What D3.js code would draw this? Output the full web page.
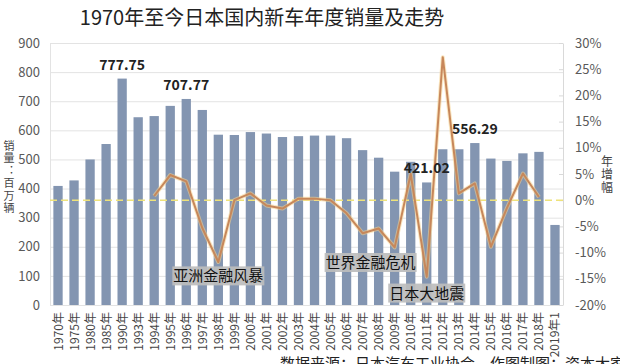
<!DOCTYPE html>
<html>
<head>
<meta charset="utf-8">
<script src="https://cdn.jsdelivr.net/npm/d3@7"></script>
<style>
  body { margin: 0; background: #fff; }
  svg { display: block; font-family: "Noto Sans CJK SC", "Noto Sans", sans-serif; }
</style>
</head>
<body>
<div id="chart"></div>
<script>
// categories
var years = ["1970年","1975年","1980年","1985年","1990年","1993年","1994年","1995年","1996年","1997年",
  "1998年","1999年","2000年","2001年","2002年","2003年","2004年","2005年","2006年","2007年",
  "2008年","2009年","2010年","2011年","2012年","2013年","2014年","2015年","2016年","2017年",
  "2018年","2019年1"];
// sales, 10k units
var sales = [409,428,500,553,777.75,645,649,684,707.77,670,
  585,584,594,589,577,580,582,582,573,532,
  506,458,492,421.02,535,535,556.29,503,495,521,
  526,275];
// yearly growth %, only 1994..2018
var growthYears = years.slice(6, 31);
var growth = [0.8,4.8,3.6,-5.3,-11.8,0,1.3,-1,-1.6,0.3,
  0.3,0,-2.5,-6.3,-5.4,-9,5,-14.6,27.3,1.3,
  3.2,-8.9,-1.5,5.1,0.6];
var labelled = ["1990年","1996年","2011年","2014年"];
var leftTicks = [0,100,200,300,400,500,600,700,800,900];
var rightTicks = [-20,-15,-10,-5,0,5,10,15,20,25,30];
var events = [
  {text: "亚洲金融风暴", from: "1998年", to: "1998年", v: 100},
  {text: "世界金融危机", from: "2007年", to: "2008年", v: 146},
  {text: "日本大地震", from: "2011年", to: "2011年", v: 41}
];

var W = 620, H = 364;
var margin = {top: 43, right: 57, bottom: 59, left: 50};

var svg = d3.select("#chart").append("svg")
  .attr("width", W).attr("height", H);

var x = d3.scaleBand()
  .domain(years)
  .range([margin.left, W - margin.right])
  .paddingInner(0.42).paddingOuter(0.21);

var yL = d3.scaleLinear().domain([0, 900]).range([H - margin.bottom, margin.top]);
var yR = d3.scaleLinear().domain([-20, 30]).range([H - margin.bottom, margin.top]);

// title
svg.append("text")
  .attr("x", 262).attr("y", 25)
  .attr("text-anchor", "middle")
  .attr("font-size", 20)
  .attr("fill", "#222")
  .text("1970年至今日本国内新车年度销量及走势");

// grid
svg.append("g").selectAll("line")
  .data(leftTicks)
  .join("line")
    .attr("x1", margin.left).attr("x2", W - margin.right)
    .attr("y1", function(d) { return yL(d) + 0.5; })
    .attr("y2", function(d) { return yL(d) + 0.5; })
    .attr("stroke", "#e3e3e3");

// left axis
var gL = svg.append("g")
  .attr("transform", "translate(" + margin.left + ",0)")
  .call(d3.axisLeft(yL).tickValues(leftTicks).tickSize(0).tickPadding(10));
gL.select(".domain").attr("stroke", "#e3e3e3");
gL.selectAll("text").attr("font-size", 13).attr("fill", "#595959")
  .attr("font-family", "\"Noto Sans CJK SC\", sans-serif");

// right axis
var gR = svg.append("g")
  .attr("transform", "translate(" + (W - margin.right) + ",0)")
  .call(d3.axisRight(yR).tickValues(rightTicks).tickFormat(function(d) { return d + "%"; })
    .tickSizeInner(-4).tickSizeOuter(0).tickPadding(12));
gR.select(".domain").attr("stroke", "#d9d9d9");
gR.selectAll(".tick line").attr("stroke", "#d9d9d9");
gR.selectAll("text").attr("font-size", 13).attr("fill", "#595959")
  .attr("font-family", "\"Noto Sans CJK SC\", sans-serif");

// bars
svg.append("g").selectAll("rect")
  .data(years)
  .join("rect")
    .attr("x", function(d) { return x(d); })
    .attr("y", function(d, i) { return yL(sales[i]); })
    .attr("width", x.bandwidth())
    .attr("height", function(d, i) { return yL(0) - yL(sales[i]); })
    .attr("fill", "#8395b1");

// zero growth line
svg.append("line")
  .attr("x1", margin.left).attr("x2", W - margin.right)
  .attr("y1", yR(0)).attr("y2", yR(0))
  .attr("stroke", "#eee27a").attr("stroke-width", 1.5)
  .attr("stroke-dasharray", "7,4");

// growth line
var line = d3.line()
  .x(function(d, i) { return x(growthYears[i]) + x.bandwidth() / 2; })
  .y(function(d) { return yR(d); });

svg.append("path")
  .datum(growth)
  .attr("d", line)
  .attr("fill", "none")
  .attr("stroke", "#f6d18d").attr("stroke-opacity", 0.55)
  .attr("stroke-width", 4).attr("stroke-linejoin", "round");
svg.append("path")
  .datum(growth)
  .attr("d", line)
  .attr("fill", "none")
  .attr("stroke", "#c7875a")
  .attr("stroke-width", 2).attr("stroke-linejoin", "round");

// bar value labels
svg.append("g").selectAll("text")
  .data(labelled)
  .join("text")
    .attr("x", function(d) { return x(d) + x.bandwidth() / 2; })
    .attr("y", function(d) { return yL(sales[years.indexOf(d)]) - 9; })
    .attr("text-anchor", "middle")
    .attr("font-size", 14).attr("font-weight", "bold")
    .attr("fill", "#222")
    .text(function(d) { return sales[years.indexOf(d)].toFixed(2); });

// event boxes
events.forEach(function(e) {
  var cx = (x(e.from) + x(e.to)) / 2 + x.bandwidth() / 2;
  var cy = yL(e.v);
  var g = svg.append("g");
  var t = g.append("text")
    .attr("x", cx).attr("y", cy + 5.5)
    .attr("text-anchor", "middle")
    .attr("font-size", 15)
    .attr("fill", "#111")
    .text(e.text);
  var bb = t.node().getBBox();
  g.insert("rect", "text")
    .attr("x", bb.x - 1).attr("y", cy - 9.5)
    .attr("width", bb.width + 2).attr("height", 19)
    .attr("fill", "#bdbdbd").attr("fill-opacity", 0.92);
});

// x labels
svg.append("g").selectAll("text")
  .data(years)
  .join("text")
    .attr("transform", function(d) {
      return "translate(" + (x(d) + x.bandwidth() / 2 + 4.5) + "," + (yL(0) + 7) + ") rotate(-90)";
    })
    .attr("text-anchor", "end")
    .attr("font-size", 12)
    .attr("fill", "#444")
    .text(function(d) { return d; });

// axis titles, written top to bottom
svg.append("text")
  .attr("x", 9).attr("y", 140)
  .style("writing-mode", "vertical-rl")
  .attr("font-size", 11).attr("letter-spacing", 1.5)
  .attr("fill", "#444")
  .text("销量：百万辆");
svg.append("text")
  .attr("x", 607).attr("y", 155)
  .style("writing-mode", "vertical-rl")
  .attr("font-size", 12).attr("letter-spacing", 1)
  .attr("fill", "#444")
  .text("年增幅");

// source line, cut by the bottom edge as in the original
svg.append("text")
  .attr("x", 280).attr("y", 369)
  .attr("font-size", 15).attr("fill", "#222")
  .text("数据来源：日本汽车工业协会，作图制图：资本大家");
</script>
</body>
</html>
